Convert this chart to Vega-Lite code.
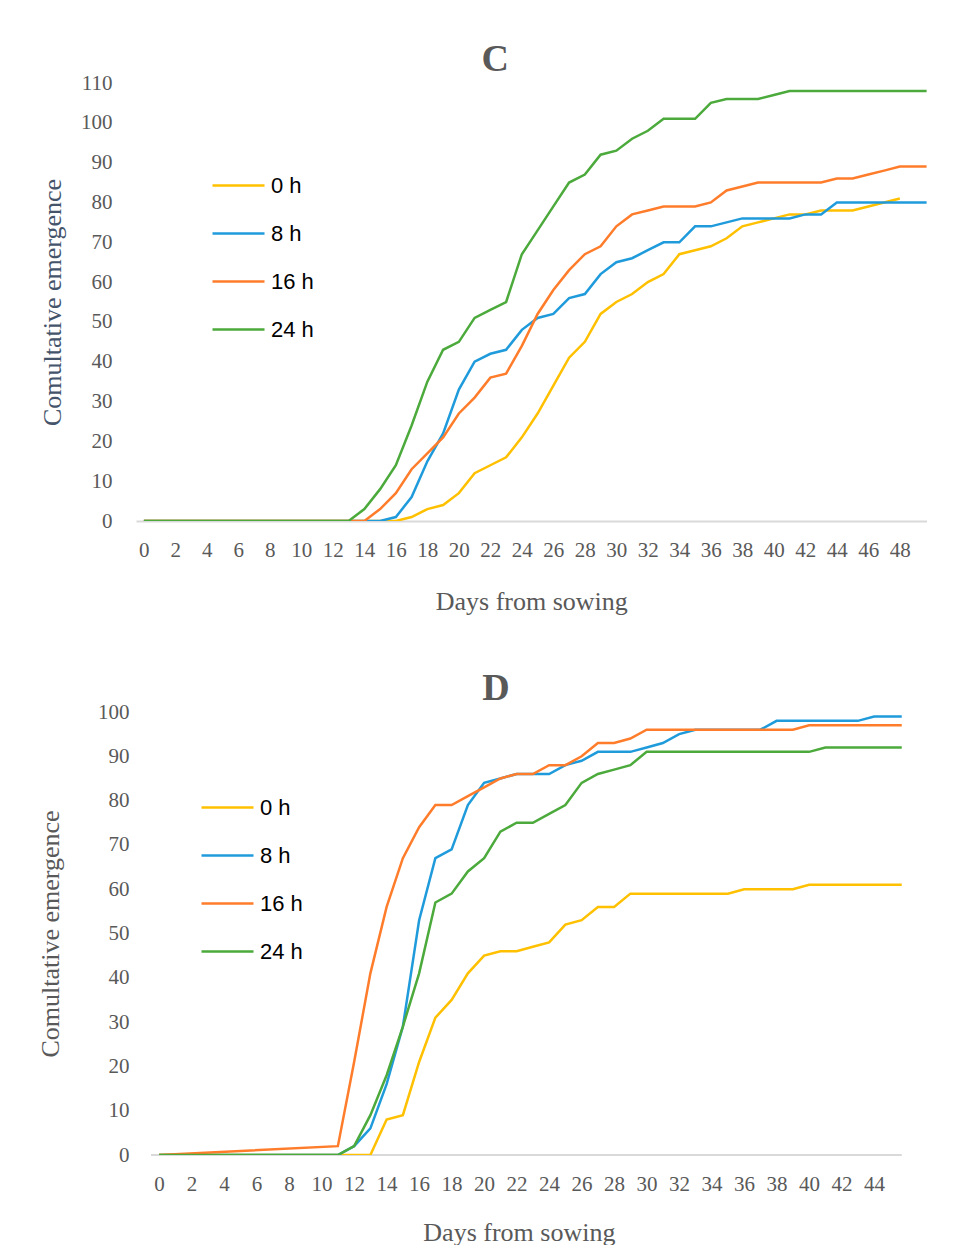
{
  "$schema": "https://vega.github.io/schema/vega-lite/v6.json",
  "background": "white",
  "padding": {"left": 37, "top": 41, "right": 0, "bottom": 0},
  "spacing": 56,
  "datasets": {
    "C": [
      {"day":0,"t":"0 h","v":0},{"day":1,"t":"0 h","v":0},{"day":2,"t":"0 h","v":0},{"day":3,"t":"0 h","v":0},{"day":4,"t":"0 h","v":0},{"day":5,"t":"0 h","v":0},{"day":6,"t":"0 h","v":0},{"day":7,"t":"0 h","v":0},{"day":8,"t":"0 h","v":0},{"day":9,"t":"0 h","v":0},{"day":10,"t":"0 h","v":0},{"day":11,"t":"0 h","v":0},{"day":12,"t":"0 h","v":0},{"day":13,"t":"0 h","v":0},{"day":14,"t":"0 h","v":0},{"day":15,"t":"0 h","v":0},{"day":16,"t":"0 h","v":0},{"day":17,"t":"0 h","v":1},{"day":18,"t":"0 h","v":3},{"day":19,"t":"0 h","v":4},{"day":20,"t":"0 h","v":7},{"day":21,"t":"0 h","v":12},{"day":22,"t":"0 h","v":14},{"day":23,"t":"0 h","v":16},{"day":24,"t":"0 h","v":21},{"day":25,"t":"0 h","v":27},{"day":26,"t":"0 h","v":34},{"day":27,"t":"0 h","v":41},{"day":28,"t":"0 h","v":45},{"day":29,"t":"0 h","v":52},{"day":30,"t":"0 h","v":55},{"day":31,"t":"0 h","v":57},{"day":32,"t":"0 h","v":60},{"day":33,"t":"0 h","v":62},{"day":34,"t":"0 h","v":67},{"day":35,"t":"0 h","v":68},{"day":36,"t":"0 h","v":69},{"day":37,"t":"0 h","v":71},{"day":38,"t":"0 h","v":74},{"day":39,"t":"0 h","v":75},{"day":40,"t":"0 h","v":76},{"day":41,"t":"0 h","v":77},{"day":42,"t":"0 h","v":77},{"day":43,"t":"0 h","v":78},{"day":44,"t":"0 h","v":78},{"day":45,"t":"0 h","v":78},{"day":46,"t":"0 h","v":79},{"day":47,"t":"0 h","v":80},{"day":48,"t":"0 h","v":81},
      {"day":0,"t":"8 h","v":0},{"day":1,"t":"8 h","v":0},{"day":2,"t":"8 h","v":0},{"day":3,"t":"8 h","v":0},{"day":4,"t":"8 h","v":0},{"day":5,"t":"8 h","v":0},{"day":6,"t":"8 h","v":0},{"day":7,"t":"8 h","v":0},{"day":8,"t":"8 h","v":0},{"day":9,"t":"8 h","v":0},{"day":10,"t":"8 h","v":0},{"day":11,"t":"8 h","v":0},{"day":12,"t":"8 h","v":0},{"day":13,"t":"8 h","v":0},{"day":14,"t":"8 h","v":0},{"day":15,"t":"8 h","v":0},{"day":16,"t":"8 h","v":1},{"day":17,"t":"8 h","v":6},{"day":18,"t":"8 h","v":15},{"day":19,"t":"8 h","v":22},{"day":20,"t":"8 h","v":33},{"day":21,"t":"8 h","v":40},{"day":22,"t":"8 h","v":42},{"day":23,"t":"8 h","v":43},{"day":24,"t":"8 h","v":48},{"day":25,"t":"8 h","v":51},{"day":26,"t":"8 h","v":52},{"day":27,"t":"8 h","v":56},{"day":28,"t":"8 h","v":57},{"day":29,"t":"8 h","v":62},{"day":30,"t":"8 h","v":65},{"day":31,"t":"8 h","v":66},{"day":32,"t":"8 h","v":68},{"day":33,"t":"8 h","v":70},{"day":34,"t":"8 h","v":70},{"day":35,"t":"8 h","v":74},{"day":36,"t":"8 h","v":74},{"day":37,"t":"8 h","v":75},{"day":38,"t":"8 h","v":76},{"day":39,"t":"8 h","v":76},{"day":40,"t":"8 h","v":76},{"day":41,"t":"8 h","v":76},{"day":42,"t":"8 h","v":77},{"day":43,"t":"8 h","v":77},{"day":44,"t":"8 h","v":80},{"day":45,"t":"8 h","v":80},{"day":46,"t":"8 h","v":80},{"day":47,"t":"8 h","v":80},{"day":48,"t":"8 h","v":80},{"day":49,"t":"8 h","v":80},{"day":50,"t":"8 h","v":80},
      {"day":0,"t":"16 h","v":0},{"day":1,"t":"16 h","v":0},{"day":2,"t":"16 h","v":0},{"day":3,"t":"16 h","v":0},{"day":4,"t":"16 h","v":0},{"day":5,"t":"16 h","v":0},{"day":6,"t":"16 h","v":0},{"day":7,"t":"16 h","v":0},{"day":8,"t":"16 h","v":0},{"day":9,"t":"16 h","v":0},{"day":10,"t":"16 h","v":0},{"day":11,"t":"16 h","v":0},{"day":12,"t":"16 h","v":0},{"day":13,"t":"16 h","v":0},{"day":14,"t":"16 h","v":0},{"day":15,"t":"16 h","v":3},{"day":16,"t":"16 h","v":7},{"day":17,"t":"16 h","v":13},{"day":18,"t":"16 h","v":17},{"day":19,"t":"16 h","v":21},{"day":20,"t":"16 h","v":27},{"day":21,"t":"16 h","v":31},{"day":22,"t":"16 h","v":36},{"day":23,"t":"16 h","v":37},{"day":24,"t":"16 h","v":44},{"day":25,"t":"16 h","v":52},{"day":26,"t":"16 h","v":58},{"day":27,"t":"16 h","v":63},{"day":28,"t":"16 h","v":67},{"day":29,"t":"16 h","v":69},{"day":30,"t":"16 h","v":74},{"day":31,"t":"16 h","v":77},{"day":32,"t":"16 h","v":78},{"day":33,"t":"16 h","v":79},{"day":34,"t":"16 h","v":79},{"day":35,"t":"16 h","v":79},{"day":36,"t":"16 h","v":80},{"day":37,"t":"16 h","v":83},{"day":38,"t":"16 h","v":84},{"day":39,"t":"16 h","v":85},{"day":40,"t":"16 h","v":85},{"day":41,"t":"16 h","v":85},{"day":42,"t":"16 h","v":85},{"day":43,"t":"16 h","v":85},{"day":44,"t":"16 h","v":86},{"day":45,"t":"16 h","v":86},{"day":46,"t":"16 h","v":87},{"day":47,"t":"16 h","v":88},{"day":48,"t":"16 h","v":89},{"day":49,"t":"16 h","v":89},{"day":50,"t":"16 h","v":89},
      {"day":0,"t":"24 h","v":0},{"day":1,"t":"24 h","v":0},{"day":2,"t":"24 h","v":0},{"day":3,"t":"24 h","v":0},{"day":4,"t":"24 h","v":0},{"day":5,"t":"24 h","v":0},{"day":6,"t":"24 h","v":0},{"day":7,"t":"24 h","v":0},{"day":8,"t":"24 h","v":0},{"day":9,"t":"24 h","v":0},{"day":10,"t":"24 h","v":0},{"day":11,"t":"24 h","v":0},{"day":12,"t":"24 h","v":0},{"day":13,"t":"24 h","v":0},{"day":14,"t":"24 h","v":3},{"day":15,"t":"24 h","v":8},{"day":16,"t":"24 h","v":14},{"day":17,"t":"24 h","v":24},{"day":18,"t":"24 h","v":35},{"day":19,"t":"24 h","v":43},{"day":20,"t":"24 h","v":45},{"day":21,"t":"24 h","v":51},{"day":22,"t":"24 h","v":53},{"day":23,"t":"24 h","v":55},{"day":24,"t":"24 h","v":67},{"day":25,"t":"24 h","v":73},{"day":26,"t":"24 h","v":79},{"day":27,"t":"24 h","v":85},{"day":28,"t":"24 h","v":87},{"day":29,"t":"24 h","v":92},{"day":30,"t":"24 h","v":93},{"day":31,"t":"24 h","v":96},{"day":32,"t":"24 h","v":98},{"day":33,"t":"24 h","v":101},{"day":34,"t":"24 h","v":101},{"day":35,"t":"24 h","v":101},{"day":36,"t":"24 h","v":105},{"day":37,"t":"24 h","v":106},{"day":38,"t":"24 h","v":106},{"day":39,"t":"24 h","v":106},{"day":40,"t":"24 h","v":107},{"day":41,"t":"24 h","v":108},{"day":42,"t":"24 h","v":108},{"day":43,"t":"24 h","v":108},{"day":44,"t":"24 h","v":108},{"day":45,"t":"24 h","v":108},{"day":46,"t":"24 h","v":108},{"day":47,"t":"24 h","v":108},{"day":48,"t":"24 h","v":108},{"day":49,"t":"24 h","v":108},{"day":50,"t":"24 h","v":108}
    ],
    "D": [
      {"day":0,"t":"0 h","v":0},{"day":1,"t":"0 h","v":0},{"day":2,"t":"0 h","v":0},{"day":3,"t":"0 h","v":0},{"day":4,"t":"0 h","v":0},{"day":5,"t":"0 h","v":0},{"day":6,"t":"0 h","v":0},{"day":7,"t":"0 h","v":0},{"day":8,"t":"0 h","v":0},{"day":9,"t":"0 h","v":0},{"day":10,"t":"0 h","v":0},{"day":11,"t":"0 h","v":0},{"day":12,"t":"0 h","v":0},{"day":13,"t":"0 h","v":0},{"day":14,"t":"0 h","v":8},{"day":15,"t":"0 h","v":9},{"day":16,"t":"0 h","v":21},{"day":17,"t":"0 h","v":31},{"day":18,"t":"0 h","v":35},{"day":19,"t":"0 h","v":41},{"day":20,"t":"0 h","v":45},{"day":21,"t":"0 h","v":46},{"day":22,"t":"0 h","v":46},{"day":23,"t":"0 h","v":47},{"day":24,"t":"0 h","v":48},{"day":25,"t":"0 h","v":52},{"day":26,"t":"0 h","v":53},{"day":27,"t":"0 h","v":56},{"day":28,"t":"0 h","v":56},{"day":29,"t":"0 h","v":59},{"day":30,"t":"0 h","v":59},{"day":31,"t":"0 h","v":59},{"day":32,"t":"0 h","v":59},{"day":33,"t":"0 h","v":59},{"day":34,"t":"0 h","v":59},{"day":35,"t":"0 h","v":59},{"day":36,"t":"0 h","v":60},{"day":37,"t":"0 h","v":60},{"day":38,"t":"0 h","v":60},{"day":39,"t":"0 h","v":60},{"day":40,"t":"0 h","v":61},{"day":41,"t":"0 h","v":61},{"day":42,"t":"0 h","v":61},{"day":43,"t":"0 h","v":61},{"day":44,"t":"0 h","v":61},{"day":45,"t":"0 h","v":61},{"day":46,"t":"0 h","v":61},
      {"day":0,"t":"8 h","v":0},{"day":1,"t":"8 h","v":0},{"day":2,"t":"8 h","v":0},{"day":3,"t":"8 h","v":0},{"day":4,"t":"8 h","v":0},{"day":5,"t":"8 h","v":0},{"day":6,"t":"8 h","v":0},{"day":7,"t":"8 h","v":0},{"day":8,"t":"8 h","v":0},{"day":9,"t":"8 h","v":0},{"day":10,"t":"8 h","v":0},{"day":11,"t":"8 h","v":0},{"day":12,"t":"8 h","v":2},{"day":13,"t":"8 h","v":6},{"day":14,"t":"8 h","v":16},{"day":15,"t":"8 h","v":29},{"day":16,"t":"8 h","v":53},{"day":17,"t":"8 h","v":67},{"day":18,"t":"8 h","v":69},{"day":19,"t":"8 h","v":79},{"day":20,"t":"8 h","v":84},{"day":21,"t":"8 h","v":85},{"day":22,"t":"8 h","v":86},{"day":23,"t":"8 h","v":86},{"day":24,"t":"8 h","v":86},{"day":25,"t":"8 h","v":88},{"day":26,"t":"8 h","v":89},{"day":27,"t":"8 h","v":91},{"day":28,"t":"8 h","v":91},{"day":29,"t":"8 h","v":91},{"day":30,"t":"8 h","v":92},{"day":31,"t":"8 h","v":93},{"day":32,"t":"8 h","v":95},{"day":33,"t":"8 h","v":96},{"day":34,"t":"8 h","v":96},{"day":35,"t":"8 h","v":96},{"day":36,"t":"8 h","v":96},{"day":37,"t":"8 h","v":96},{"day":38,"t":"8 h","v":98},{"day":39,"t":"8 h","v":98},{"day":40,"t":"8 h","v":98},{"day":41,"t":"8 h","v":98},{"day":42,"t":"8 h","v":98},{"day":43,"t":"8 h","v":98},{"day":44,"t":"8 h","v":99},{"day":45,"t":"8 h","v":99},{"day":46,"t":"8 h","v":99},
      {"day":0,"t":"16 h","v":0},{"day":11,"t":"16 h","v":2},{"day":12,"t":"16 h","v":21},{"day":13,"t":"16 h","v":41},{"day":14,"t":"16 h","v":56},{"day":15,"t":"16 h","v":67},{"day":16,"t":"16 h","v":74},{"day":17,"t":"16 h","v":79},{"day":18,"t":"16 h","v":79},{"day":19,"t":"16 h","v":81},{"day":20,"t":"16 h","v":83},{"day":21,"t":"16 h","v":85},{"day":22,"t":"16 h","v":86},{"day":23,"t":"16 h","v":86},{"day":24,"t":"16 h","v":88},{"day":25,"t":"16 h","v":88},{"day":26,"t":"16 h","v":90},{"day":27,"t":"16 h","v":93},{"day":28,"t":"16 h","v":93},{"day":29,"t":"16 h","v":94},{"day":30,"t":"16 h","v":96},{"day":31,"t":"16 h","v":96},{"day":32,"t":"16 h","v":96},{"day":33,"t":"16 h","v":96},{"day":34,"t":"16 h","v":96},{"day":35,"t":"16 h","v":96},{"day":36,"t":"16 h","v":96},{"day":37,"t":"16 h","v":96},{"day":38,"t":"16 h","v":96},{"day":39,"t":"16 h","v":96},{"day":40,"t":"16 h","v":97},{"day":41,"t":"16 h","v":97},{"day":42,"t":"16 h","v":97},{"day":43,"t":"16 h","v":97},{"day":44,"t":"16 h","v":97},{"day":45,"t":"16 h","v":97},{"day":46,"t":"16 h","v":97},
      {"day":0,"t":"24 h","v":0},{"day":1,"t":"24 h","v":0},{"day":2,"t":"24 h","v":0},{"day":3,"t":"24 h","v":0},{"day":4,"t":"24 h","v":0},{"day":5,"t":"24 h","v":0},{"day":6,"t":"24 h","v":0},{"day":7,"t":"24 h","v":0},{"day":8,"t":"24 h","v":0},{"day":9,"t":"24 h","v":0},{"day":10,"t":"24 h","v":0},{"day":11,"t":"24 h","v":0},{"day":12,"t":"24 h","v":2},{"day":13,"t":"24 h","v":9},{"day":14,"t":"24 h","v":18},{"day":15,"t":"24 h","v":29},{"day":16,"t":"24 h","v":41},{"day":17,"t":"24 h","v":57},{"day":18,"t":"24 h","v":59},{"day":19,"t":"24 h","v":64},{"day":20,"t":"24 h","v":67},{"day":21,"t":"24 h","v":73},{"day":22,"t":"24 h","v":75},{"day":23,"t":"24 h","v":75},{"day":24,"t":"24 h","v":77},{"day":25,"t":"24 h","v":79},{"day":26,"t":"24 h","v":84},{"day":27,"t":"24 h","v":86},{"day":28,"t":"24 h","v":87},{"day":29,"t":"24 h","v":88},{"day":30,"t":"24 h","v":91},{"day":31,"t":"24 h","v":91},{"day":32,"t":"24 h","v":91},{"day":33,"t":"24 h","v":91},{"day":34,"t":"24 h","v":91},{"day":35,"t":"24 h","v":91},{"day":36,"t":"24 h","v":91},{"day":37,"t":"24 h","v":91},{"day":38,"t":"24 h","v":91},{"day":39,"t":"24 h","v":91},{"day":40,"t":"24 h","v":91},{"day":41,"t":"24 h","v":92},{"day":42,"t":"24 h","v":92},{"day":43,"t":"24 h","v":92},{"day":44,"t":"24 h","v":92},{"day":45,"t":"24 h","v":92},{"day":46,"t":"24 h","v":92}
    ]
  },
  "config": {
    "view": {"stroke": null},
    "axis": {
      "labelFont": "Liberation Serif", "titleFont": "Liberation Serif",
      "labelFontSize": 21, "titleFontSize": 26,
      "labelColor": "#595959", "titleColor": "#595959",
      "titleFontWeight": "normal", "grid": false, "ticks": false, "domain": false,
      "labelOverlap": false
    },
    "title": {"font": "Liberation Serif", "fontSize": 38, "fontWeight": "bold", "color": "#595959", "anchor": "middle", "baseline": "alphabetic", "offset": -7},
    "legend": {
      "orient": "none", "symbolType": "stroke", "symbolSize": 2704, "symbolStrokeWidth": 2.5,
      "labelFont": "Liberation Sans", "labelFontSize": 22, "labelColor": "#000000",
      "padding": 0, "rowPadding": 9, "labelOffset": 5
    }
  },
  "resolve": {"scale": {"color": "independent", "x": "independent", "y": "independent"}, "legend": {"color": "independent"}},
  "vconcat": [
    {
      "width": 790.6, "height": 438,
      "title": {"text": "C", "dx": -36},
      "data": {"name": "C"},
      "mark": {"type": "line", "strokeWidth": 2.5, "clip": true},
      "encoding": {
        "x": {"field": "day", "type": "quantitative",
          "scale": {"domain": [-0.5, 49.7], "nice": false, "zero": false},
          "axis": {"values": [0,2,4,6,8,10,12,14,16,18,20,22,24,26,28,30,32,34,36,38,40,42,44,46,48], "title": "Days from sowing", "labelPadding": 18, "titlePadding": 28, "domain": true, "domainColor": "#D9D9D9", "domainWidth": 2, "labelFlush": false, "labelOverlap": false}},
        "y": {"field": "v", "type": "quantitative",
          "scale": {"domain": [0, 110], "nice": false},
          "axis": {"values": [0,10,20,30,40,50,60,70,80,90,100,110], "title": "Comultative  emergence", "titleColor": "#44546A", "labelPadding": 24, "titlePadding": 15}},
        "color": {"field": "t", "type": "nominal",
          "scale": {"domain": ["0 h", "8 h", "16 h", "24 h"], "range": ["#FFC000", "#1F9BDB", "#FF7C2B", "#4BAA3B"]},
          "legend": {"title": null, "legendX": 75, "legendY": 75}}
      }
    },
    {
      "width": 765.75, "height": 443,
      "title": {"text": "D", "dx": -23},
      "layer": [
        {
          "data": {"values": [{}]},
          "mark": {"type": "rule", "color": "#D9D9D9", "strokeWidth": 2},
          "encoding": {
            "x": {"datum": -0.5, "axis": {"values": [0,2,4,6,8,10,12,14,16,18,20,22,24,26,28,30,32,34,36,38,40,42,44], "title": "Days from sowing", "labelPadding": 18, "titlePadding": 25, "labelFlush": false, "labelOverlap": false}},
            "x2": {"datum": 45.7},
            "y": {"datum": 0}
          }
        },
        {
          "data": {"name": "D"},
          "mark": {"type": "line", "strokeWidth": 2.5, "clip": true},
          "encoding": {
            "x": {"field": "day", "type": "quantitative",
              "scale": {"domain": [-1.423, 45.7], "nice": false, "zero": false},
              "axis": {"values": [0,2,4,6,8,10,12,14,16,18,20,22,24,26,28,30,32,34,36,38,40,42,44], "title": "Days from sowing", "labelPadding": 18, "titlePadding": 25, "labelFlush": false, "labelOverlap": false}},
            "y": {"field": "v", "type": "quantitative",
              "scale": {"domain": [0, 100], "nice": false},
              "axis": {"values": [0,10,20,30,40,50,60,70,80,90,100], "title": "Comultative emergence", "labelPadding": 7, "titlePadding": 34}},
            "color": {"field": "t", "type": "nominal",
              "scale": {"domain": ["0 h", "8 h", "16 h", "24 h"], "range": ["#FFC000", "#1F9BDB", "#FF7C2B", "#4BAA3B"]},
              "legend": {"title": null, "legendX": 64, "legendY": 68}}
          }
        }
      ]
    }
  ]
}
